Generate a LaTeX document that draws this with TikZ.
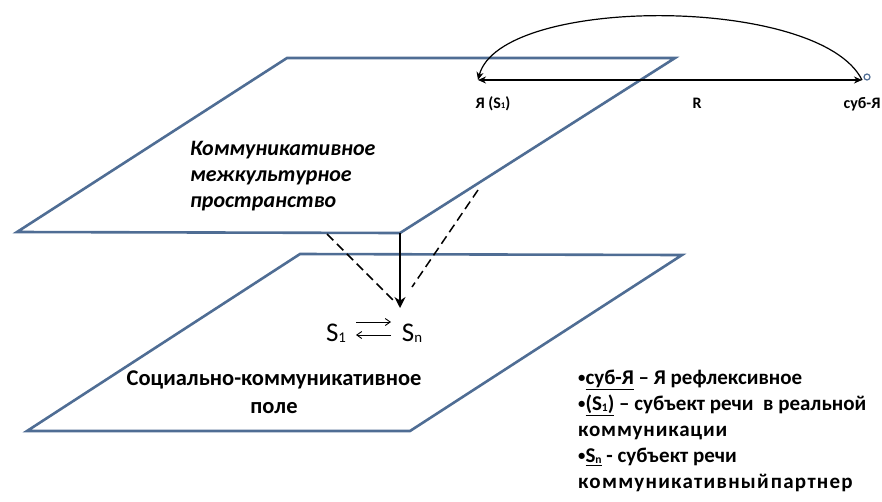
\documentclass[tikz,border=0pt]{standalone}
\usepackage{fontspec}
\setmainfont{Carlito}
\usetikzlibrary{arrows.meta}
\definecolor{planeblue}{RGB}{79,109,148}
% small index set close to the baseline
\newcommand\idx[1]{\raisebox{-0.06em}{\scalebox{0.55}{#1}}}
\newcommand\bul{\raisebox{0.12em}{\scalebox{0.7}{•}}}
\begin{document}
\begin{tikzpicture}[x=1pt,y=-1pt,
  plane/.style={draw=planeblue,line width=2.6pt,line join=miter},
  guide/.style={draw=black,line width=1.5pt,dash pattern=on 9pt off 5pt},
  relarrow/.style={draw=black,line width=1.2pt,-{Stealth[length=8pt,width=7pt]}},
  exch/.style={draw=black,line width=0.9pt,-{Straight Barb[length=5pt,width=7pt]}},
  label/.style={inner sep=0pt,font=\fontsize{16}{19}\selectfont\bfseries},
  txt/.style={inner sep=0pt,font=\fontsize{21}{26}\selectfont\bfseries}
]
\useasboundingbox (0,0) rectangle (882,501);

% corners of the two planes
\coordinate (uBL) at (17,232);
\coordinate (uTL) at (287,58);
\coordinate (uTR) at (675,58);
\coordinate (uBR) at (400,233);
\coordinate (lBL) at (27,431);
\coordinate (lTL) at (300,254);
\coordinate (lTR) at (682,255);
\coordinate (lBR) at (410,431);

\draw[plane] (uBL) -- (uTL) -- (uTR) -- (uBR) -- cycle;
\draw[plane] (lBL) -- (lTL) -- (lTR) -- (lBR) -- cycle;

% projection onto the lower plane
\coordinate (dL) at (327,234);
\coordinate (dLend) at (393,300);
\coordinate (dR) at (478,190);
\coordinate (dRend) at (412,287);
\coordinate (proj) at (400,308);
\draw[guide] (dL) -- (dLend);
\draw[guide] (dR) -- (dRend);
\draw[draw=black,line width=2.6pt,-{Stealth[length=11pt,width=11pt]}] (uBR) -- (proj);

% S1 <-> Sn exchange
\node[inner sep=0pt,anchor=base,font=\fontsize{27}{30}\selectfont] (s1) at (336,341) {S\idx{1}};
\node[inner sep=0pt,anchor=base,font=\fontsize{27}{30}\selectfont] (sn) at (412,341) {S\idx{n}};
\coordinate (e1) at (356,322);
\coordinate (e2) at (391,322);
\coordinate (e3) at (391,335);
\coordinate (e4) at (356,335);
\draw[exch] (e1) -- (e2);
\draw[exch] (e3) -- (e4);

% reflexive relation on top
\coordinate (pL) at (478,80);
\coordinate (pR) at (862,80);
\draw[relarrow,{Stealth[length=8pt,width=7pt]}-{Stealth[length=8pt,width=7pt]}] (pL) -- (pR);
\draw[relarrow] (pR) .. controls (820,-5) and (500,-5) .. (pL);
\node[draw=planeblue,fill=white,circle,line width=1.2pt,inner sep=0pt,minimum size=6pt] (dot) at (867,77) {};

\node[label,anchor=base] (ya) at (493,108) {Я (S\idx{1})};
\node[label,anchor=base] (r) at (697,108) {R};
\node[label,anchor=base] (sub) at (862,108) {суб-Я};

% plane captions
\node[txt,anchor=north west,align=left,font=\fontsize{22}{26}\selectfont\bfseries\itshape] (upper) at (190,141)
  {Коммуникативное\\межкультурное\\пространство};
\node[txt,anchor=north,align=center,font=\fontsize{22.5}{28}\selectfont\bfseries] (lower) at (274,371)
  {Социально-коммуникативное\\поле};

% legend
\node[txt,anchor=north west,align=left] (legend) at (578,370)
  {\bul\underline{суб-Я} – Я рефлексивное\\
   \bul\underline{(S\idx{1})} – субъект речи\ \ в реальной\\
   {\addfontfeature{LetterSpace=4}коммуникации}\\
   \bul\underline{S\idx{n}} - субъект речи\\
   {\addfontfeature{LetterSpace=6}коммуникативный\hspace{2pt}партнер}};
\end{tikzpicture}
\end{document}
